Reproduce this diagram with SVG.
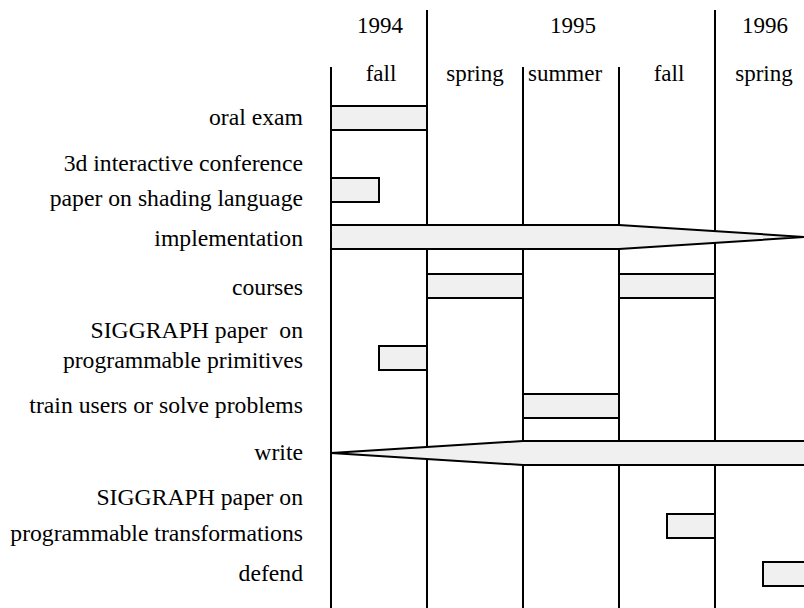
<svg xmlns="http://www.w3.org/2000/svg" width="804" height="608" viewBox="0 0 804 608">
<style>
.t{font-family:'Liberation Serif','Times New Roman','DejaVu Serif',serif;font-size:23.7px;fill:#000}
.h{font-size:23px}
.l{text-anchor:end}
.c{text-anchor:middle}
.bar{fill:#f0f0f0;stroke:#000;stroke-width:2}
.grid{stroke:#000;stroke-width:2}
</style>
<rect width="804" height="608" fill="#fff"/>
<g id="grid">
<line class="grid" x1="331" y1="67" x2="331" y2="608"/>
<line class="grid" x1="427" y1="10" x2="427" y2="608"/>
<line class="grid" x1="523" y1="67" x2="523" y2="608"/>
<line class="grid" x1="619" y1="67" x2="619" y2="608"/>
<line class="grid" x1="715" y1="10" x2="715" y2="608"/>
</g>
<g id="header">
<text class="t h c" x="380" y="33">1994</text>
<text class="t h c" x="573" y="33">1995</text>
<text class="t h c" x="765" y="33">1996</text>
<text class="t h c" x="381" y="81">fall</text>
<text class="t h c" x="475" y="81">spring</text>
<text class="t h c" x="565" y="81">summer</text>
<text class="t h c" x="669" y="81">fall</text>
<text class="t h c" x="764" y="81">spring</text>
</g>
<g id="oral-exam">
<text class="t l" x="303" y="125">oral exam</text>
<rect class="bar" x="331" y="106" width="96" height="24"/>
</g>
<g id="3d-interactive">
<text class="t l" x="303" y="171">3d interactive conference</text>
<text class="t l" x="303" y="206">paper on shading language</text>
<rect class="bar" x="331" y="178" width="48" height="24"/>
</g>
<g id="implementation">
<text class="t l" x="303" y="246">implementation</text>
<polygon class="bar" points="331,225 619,225 805,237 619,249 331,249"/>
</g>
<g id="courses">
<text class="t l" x="303" y="295">courses</text>
<rect class="bar" x="427" y="274" width="96" height="24"/>
<rect class="bar" x="619" y="274" width="96" height="24"/>
</g>
<g id="siggraph-primitives">
<text class="t l" x="303" y="338" xml:space="preserve">SIGGRAPH paper  on</text>
<text class="t l" x="303" y="368">programmable primitives</text>
<rect class="bar" x="379" y="346" width="48" height="24"/>
</g>
<g id="train-users">
<text class="t l" x="303" y="413">train users or solve problems</text>
<rect class="bar" x="523" y="394" width="96" height="24"/>
</g>
<g id="write">
<text class="t l" x="303" y="460">write</text>
<polygon class="bar" points="331,453 523,441 806,441 806,465 523,465"/>
</g>
<g id="siggraph-transformations">
<text class="t l" x="303" y="505">SIGGRAPH paper on</text>
<text class="t l" x="303" y="541">programmable transformations</text>
<rect class="bar" x="667" y="514" width="48" height="24"/>
</g>
<g id="defend">
<text class="t l" x="303" y="581">defend</text>
<rect class="bar" x="763" y="562" width="44" height="24"/>
</g>
</svg>
